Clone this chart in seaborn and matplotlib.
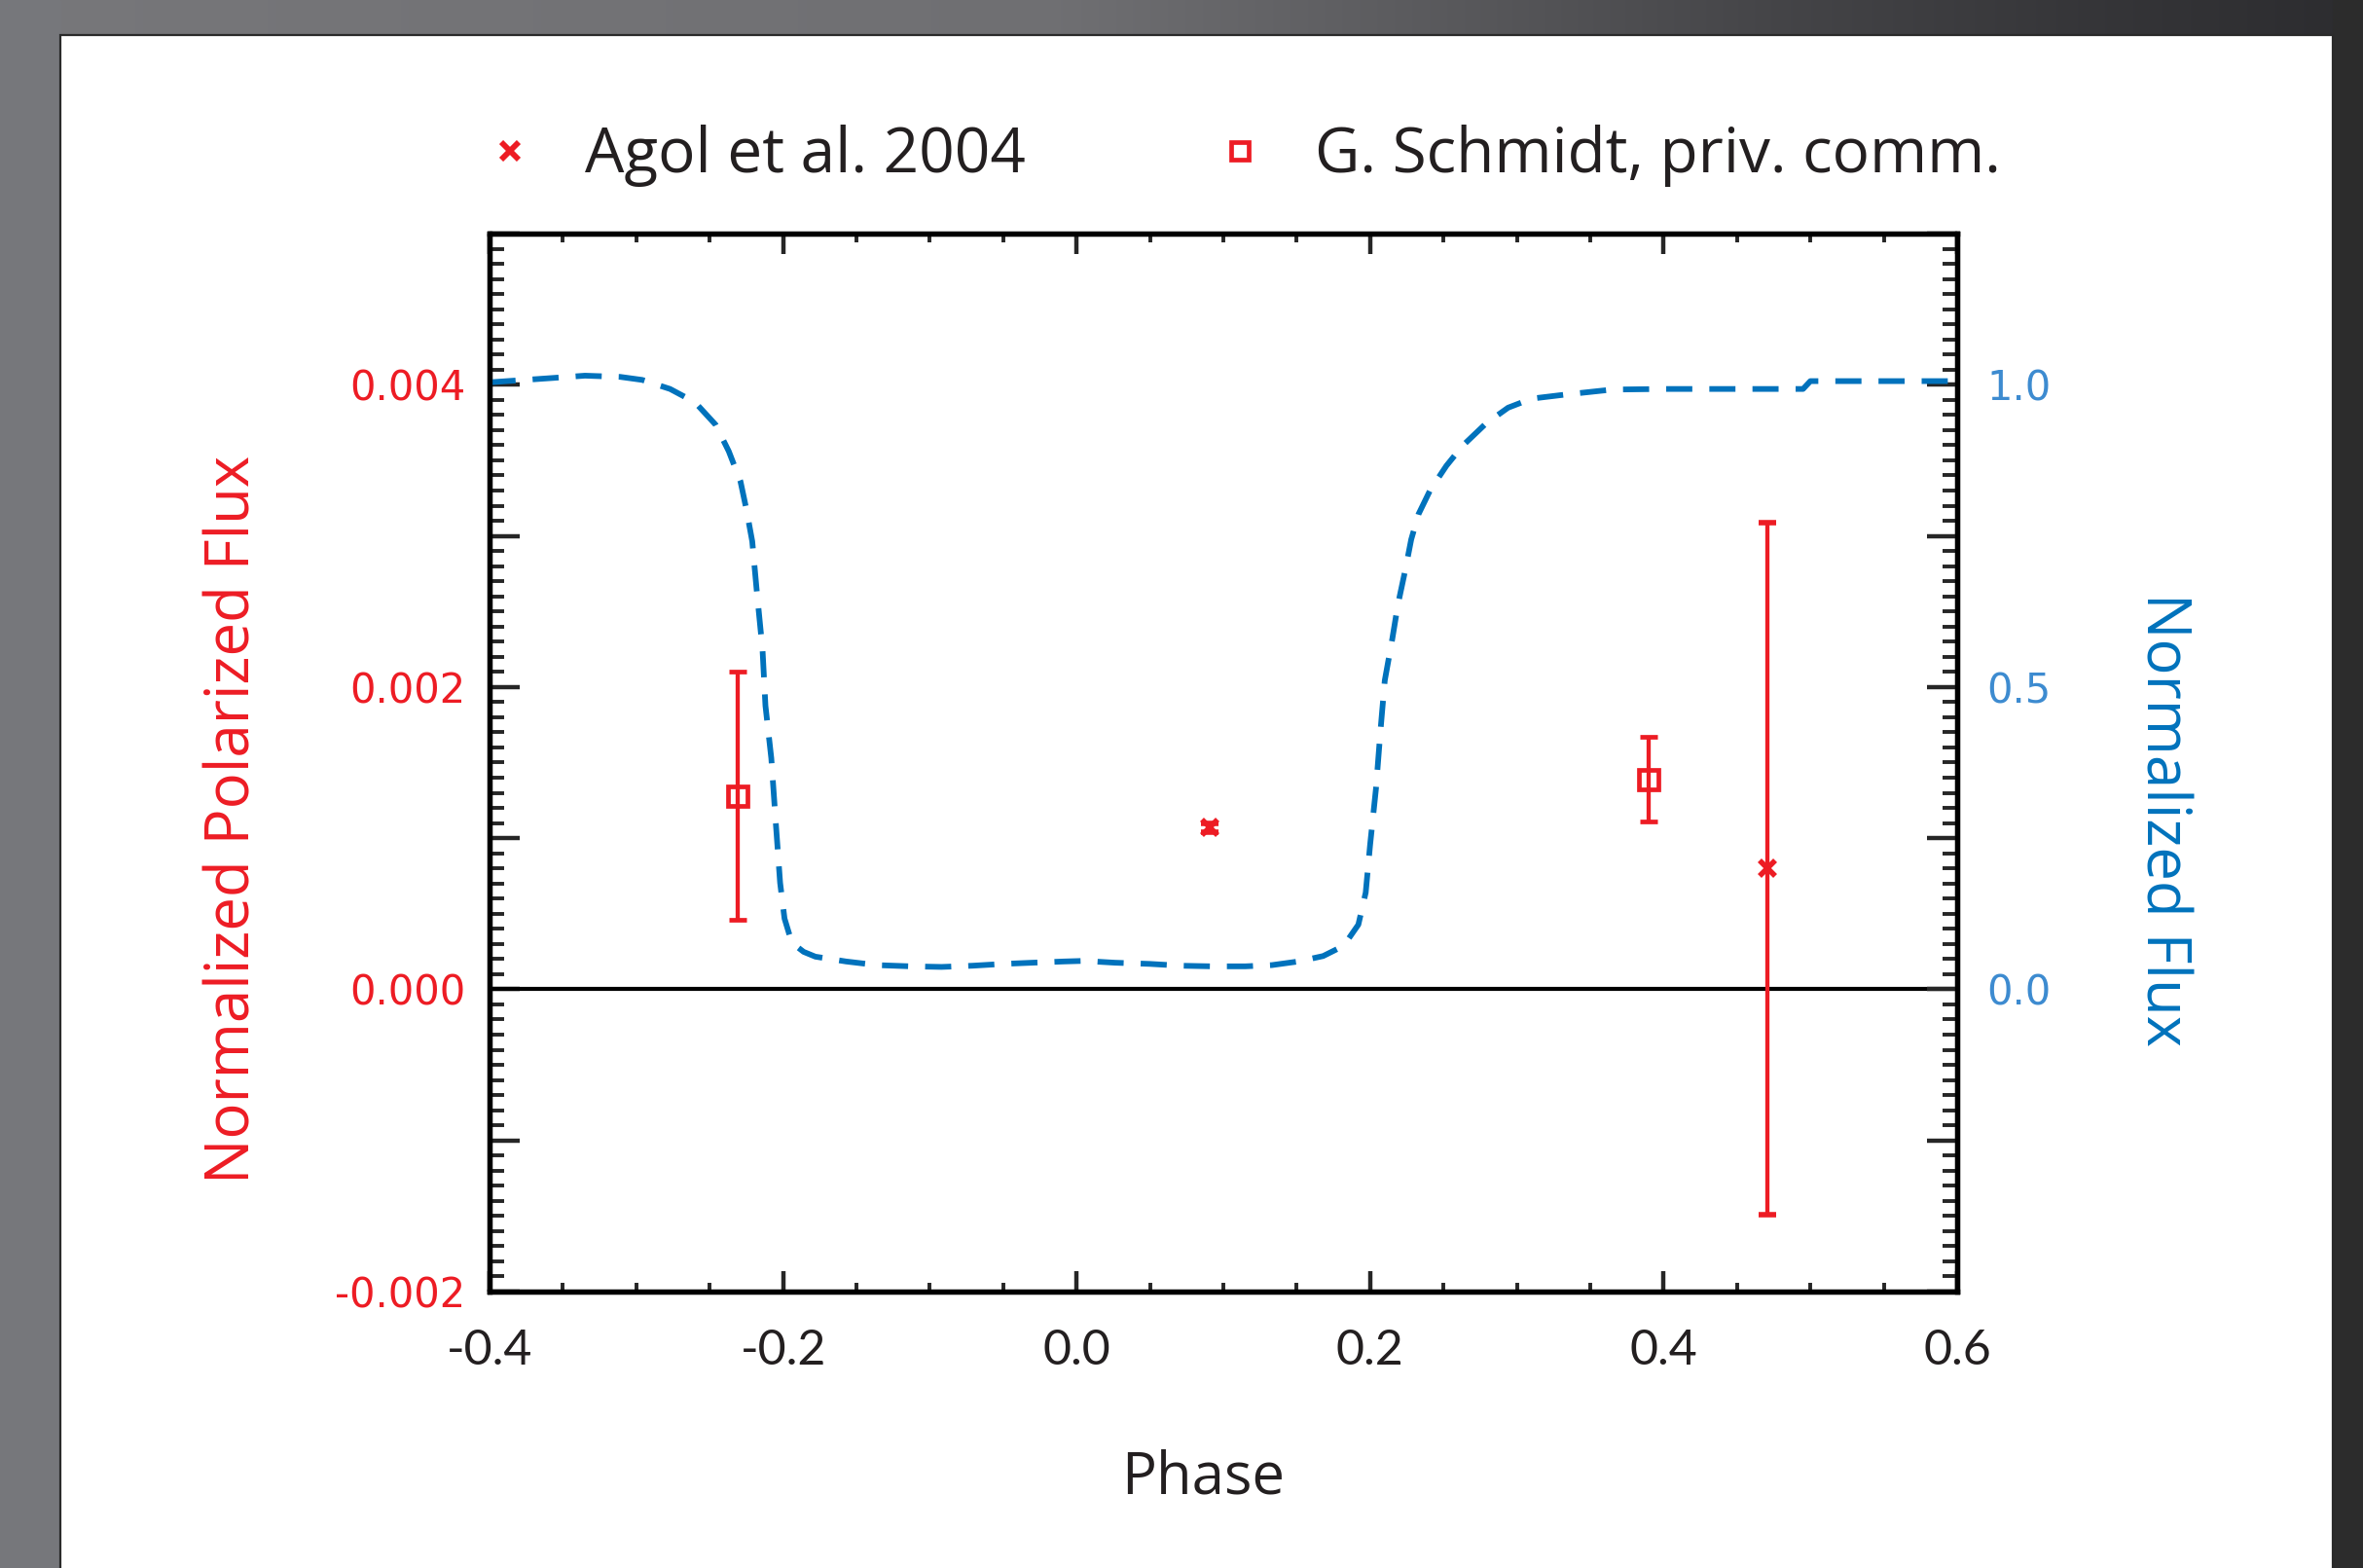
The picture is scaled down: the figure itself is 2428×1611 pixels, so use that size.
import numpy as np
import pandas as pd
import matplotlib
matplotlib.use("Agg")
import matplotlib.pyplot as plt
import seaborn as sns
from matplotlib.ticker import MultipleLocator
from matplotlib.patches import Rectangle
from matplotlib.lines import Line2D

# ---------------- data ----------------
agol_phase = [0.091, 0.471]
agol_pflux = [0.00107, 0.00080]
agol_err = [0.00003, 0.00229]

schmidt_phase = [-0.231, 0.390]
schmidt_pflux = [0.00128, 0.00139]
schmidt_err = [0.00082, 0.00028]

curve_phase = [-0.40, -0.358, -0.335, -0.311, -0.296, -0.277, -0.260, -0.246, -0.237, -0.229,
               -0.225, -0.221, -0.218, -0.214, -0.212, -0.208, -0.205, -0.202, -0.199, -0.194,
               -0.186, -0.178, -0.157, -0.136, -0.113, -0.092, -0.071, -0.050, -0.030, -0.009,
               0.005, 0.026, 0.050, 0.071, 0.092, 0.115, 0.133, 0.151, 0.168, 0.182,
               0.192, 0.197, 0.200, 0.204, 0.207, 0.210, 0.215, 0.219, 0.224, 0.228,
               0.233, 0.241, 0.252, 0.263, 0.279, 0.294, 0.310, 0.334, 0.365, 0.40,
               0.45, 0.495, 0.500, 0.55, 0.60]
curve_flux = [1.004, 1.011, 1.015, 1.013, 1.008, 0.993, 0.971, 0.934, 0.890, 0.840,
              0.794, 0.741, 0.661, 0.562, 0.469, 0.382, 0.277, 0.176, 0.117, 0.077,
              0.062, 0.054, 0.046, 0.040, 0.038, 0.037, 0.039, 0.042, 0.044, 0.046,
              0.047, 0.044, 0.042, 0.039, 0.038, 0.038, 0.040, 0.046, 0.055, 0.072,
              0.107, 0.160, 0.239, 0.332, 0.426, 0.511, 0.578, 0.637, 0.694, 0.744,
              0.786, 0.826, 0.866, 0.899, 0.936, 0.962, 0.977, 0.984, 0.992, 0.993,
              0.993, 0.993, 1.006, 1.006, 1.006]

x_ticks = [-0.4, -0.2, 0.0, 0.2, 0.4, 0.6]
x_ticklabels = ["-0.4", "-0.2", "0.0", "0.2", "0.4", "0.6"]
left_ticks = [-0.002, -0.001, 0.000, 0.001, 0.002, 0.003, 0.004, 0.005]
left_ticklabels = ["-0.002", "", "0.000", "", "0.002", "", "0.004", ""]
right_ticks = [-0.5, -0.25, 0.0, 0.25, 0.5, 0.75, 1.0, 1.25]
right_ticklabels = ["", "", "0.0", "", "0.5", "", "1.0", ""]

legend_labels = ["Agol et al. 2004", "G. Schmidt, priv. comm."]

# ---------------- style ----------------
RED = "#ed1c24"
BLUE = "#0072bc"
BLUE_TICK = "#3d8bd0"
INK = "#231f20"

sns.set_theme(style="white")
plt.rcParams["font.family"] = ["Open Sans", "DejaVu Sans"]
plt.rcParams["axes.linewidth"] = 3.8

W, H = 2428, 1611
fig = plt.figure(figsize=(W / 100, H / 100), dpi=100)

# background frame (gray gradient) + white panel
bg = fig.add_axes([0, 0, 1, 1], zorder=-10)
bg.set_xlim(0, W)
bg.set_ylim(H, 0)
bg.axis("off")
xs = np.linspace(0, 1, 400)
stops = np.array([0.0, 0.45, 0.62, 0.75, 0.88, 1.0])
vals = np.array([0x77, 0x6f, 0x58, 0x45, 0x36, 0x2c]) / 255.0
g = np.interp(xs, stops, vals)
grad = np.stack([g, g, g + 0.012], axis=-1)[None, :, :].clip(0, 1)
bg.imshow(grad, extent=[0, W, H, 0], aspect="auto", interpolation="bilinear", zorder=0)
bg.add_patch(Rectangle((0, 0), 62, H, color="#76777b", zorder=1))
bg.add_patch(Rectangle((2397, 0), W - 2397, H, color="#2c2c2c", zorder=1))
bg.add_patch(Rectangle((62, 36), 2397 - 62, H, facecolor="white", edgecolor="#2a2a2a",
                       linewidth=1.6, zorder=2))

# main axes
ax = fig.add_axes([503 / W, 1 - 1327 / H, (2011 - 503) / W, (1327 - 240) / H])
ax.set_facecolor("none")
ax.set_xlim(-0.4, 0.6)
ax.set_ylim(-0.002, 0.005)

ax.axhline(0.0, color="black", lw=3.0, zorder=2)

ax.errorbar(schmidt_phase, schmidt_pflux, yerr=schmidt_err, fmt="s", mfc="none", mec=RED,
            ms=14.5, mew=3.4, ecolor=RED, elinewidth=3.1, capsize=6.4, capthick=3.1, zorder=4)
ax.errorbar(agol_phase, agol_pflux, yerr=agol_err, fmt="x", color=RED,
            ms=11, mew=4.0, ecolor=RED, elinewidth=3.1, capsize=6.4, capthick=3.1, zorder=4)

# x ticks
ax.set_xticks(x_ticks, x_ticklabels, fontfamily="Lato", color=INK)
ax.xaxis.set_minor_locator(MultipleLocator(0.05))
ax.tick_params(axis="x", which="major", direction="in", length=15, width=3.2,
               top=True, bottom=True, labelsize=36, pad=27)
ax.tick_params(axis="x", which="minor", direction="in", length=6.5, width=2.8,
               top=True, bottom=True)

# left y ticks
ax.set_yticks(left_ticks, left_ticklabels, fontfamily="DejaVu Sans", color=RED)
ax.yaxis.set_minor_locator(MultipleLocator(0.0001))
ax.tick_params(axis="y", which="major", direction="in", length=22, width=3.2,
               left=True, right=False, labelsize=30, pad=18)
ax.tick_params(axis="y", which="minor", direction="in", length=11, width=2.8,
               left=True, right=False)

ax.set_xlabel("Phase", fontsize=43, color=INK, va="center")
ax.xaxis.set_label_coords(0.486, -0.176)
ax.set_ylabel("Normalized Polarized Flux", fontsize=44.5, color=RED, va="center")
ax.yaxis.set_label_coords(-0.1744, 0.446)

# right axis with model light curve
ax2 = ax.twinx()
ax2.set_ylim(-0.5, 1.25)
df = pd.DataFrame({"phase": curve_phase, "flux": curve_flux})
sns.lineplot(data=df, x="phase", y="flux", ax=ax2, color=BLUE, lw=4.2,
             estimator=None, sort=False)
for ln in ax2.lines:
    ln.set_linestyle((0, (4.6, 3.0)))
ax2.set_yticks(right_ticks, right_ticklabels, fontfamily="DejaVu Sans", color=BLUE_TICK)
ax2.yaxis.set_minor_locator(MultipleLocator(0.025))
ax2.tick_params(axis="y", which="major", direction="in", length=22, width=3.2,
                left=False, right=True, labelsize=30, pad=22)
ax2.tick_params(axis="y", which="minor", direction="in", length=11, width=2.8,
                left=False, right=True)
ax2.set_xlim(-0.4, 0.6)
ax2.set_xlabel("")
ax2.set_ylabel("Normalized Flux", fontsize=44.5, color=BLUE, rotation=270, va="center")
ax2.yaxis.set_label_coords(1.140, 0.446)
for sp in ax2.spines.values():
    sp.set_linewidth(3.8)
    sp.set_color("black")
for sp in ax.spines.values():
    sp.set_color("black")

# legend
handles = [Line2D([], [], marker="x", ls="none", color=RED, ms=13, mew=4.2),
           Line2D([], [], marker="s", ls="none", mfc="none", mec=RED, ms=13, mew=3.4)]
fig.legend(handles, legend_labels, loc="center", bbox_to_anchor=(0.526, 1 - 160 / H),
           ncol=2, frameon=False, fontsize=46, handlelength=0.8, handletextpad=0.8,
           columnspacing=3.05, labelcolor=INK)

fig.savefig("out.png", dpi=100)
